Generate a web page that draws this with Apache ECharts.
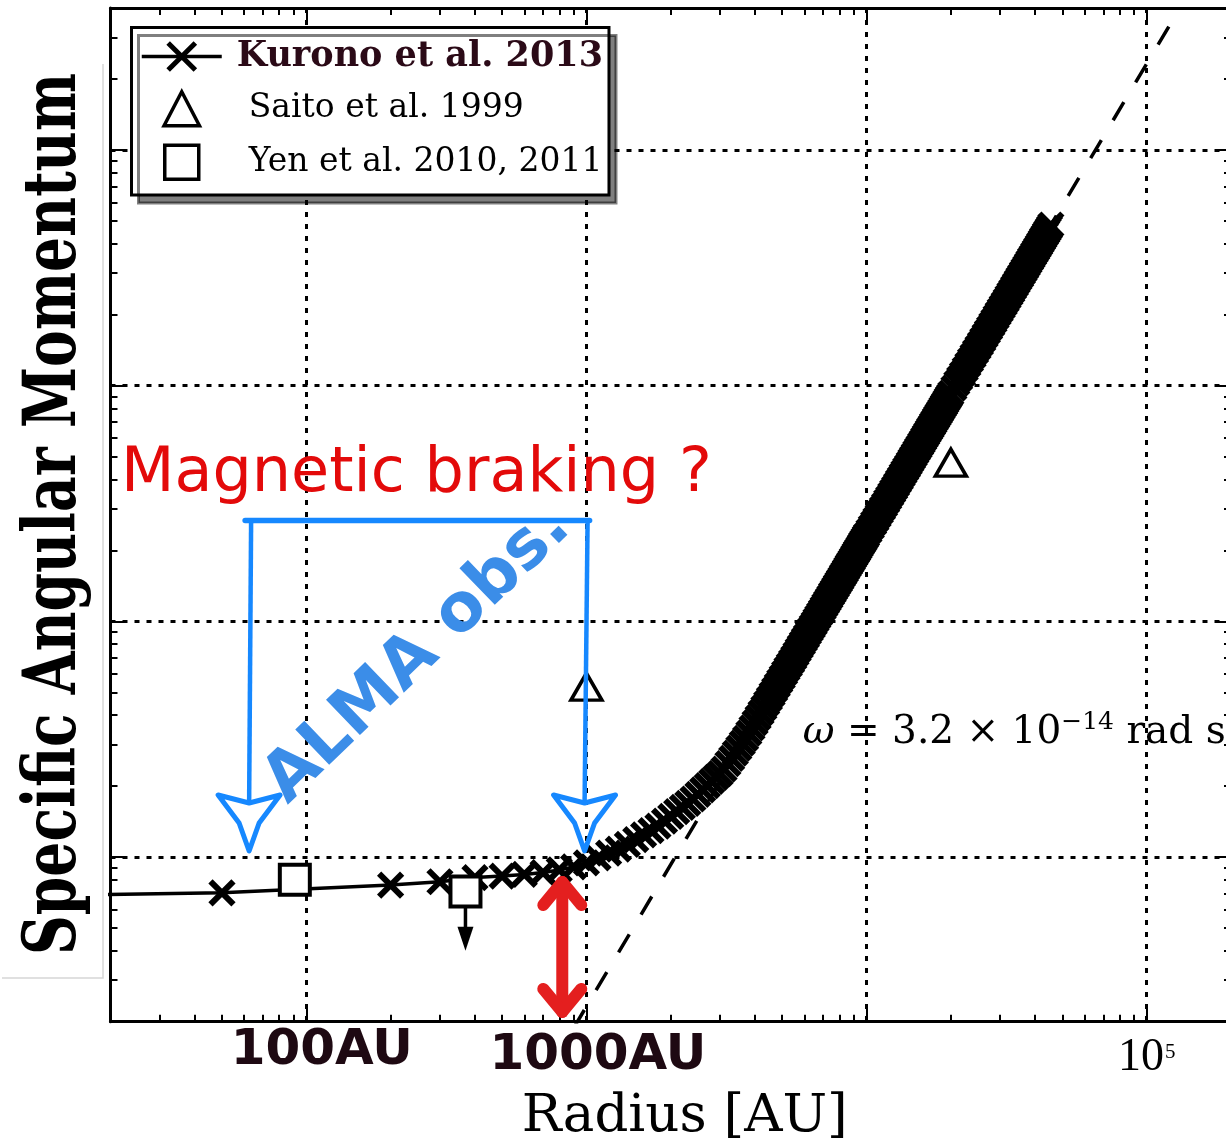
<!DOCTYPE html>
<html>
<head>
<meta charset="utf-8">
<title>Specific angular momentum versus radius</title>
<script src="https://cdn.jsdelivr.net/npm/echarts@6.0.0/dist/echarts.min.js"></script>
<style>
  html, body { margin: 0; padding: 0; background: #fff; }
  #chart { width: 1226px; height: 1144px; }
</style>
</head>
<body>
<div id="chart"></div>
<script>
// Specific angular momentum j [km s^-1 pc] against radius [AU].

// Kurono et al. 2013 model profile
const kuronoRadius = [
  10, 50, 200, 300, 400, 500, 600, 700, 800, 900, 1000,
  1100, 1200, 1300, 1400, 1500, 1600, 1700, 1800, 1900, 2000,
  2100, 2200, 2300, 2400, 2500, 2600, 2700, 2800, 2900, 3000,
  3100, 3200, 3300, 3400, 3500, 3600, 3700, 3800, 3900, 4000,
  4100, 4200, 4300, 4400, 4500, 4600, 4700, 4800, 4900, 5000,
  5100, 5200, 5300, 5400, 5500, 5600, 5700, 5800, 5900, 6000,
  6100, 6200, 6300, 6400, 6500, 6600, 6700, 6800, 6900, 7000,
  7100, 7200, 7300, 7400, 7500, 7600, 7700, 7800, 7900, 8000,
  8100, 8200, 8300, 8400, 8500, 8600, 8700, 8800, 8900, 9000,
  9100, 9200, 9300, 9400, 9500, 9600, 9700, 9800, 9900, 10000,
  10200, 10400, 10600, 10800, 11000, 11200, 11400, 11600, 11800, 12000,
  12200, 12400, 12600, 12800, 13000, 13200, 13400, 13600, 13800, 14000,
  14200, 14400, 14600, 14800, 15000, 15200, 15400, 15600, 15800, 16000,
  16200, 16400, 16600, 16800, 17000, 17200, 17400, 17600, 17800, 18000,
  18200, 18400, 18600, 18800, 19000, 19200, 19400, 19600, 19800, 20000,
  20500, 21000, 21500, 22000, 22500, 23000, 23500, 24000, 24500, 25000,
  25500, 26000, 26500, 27000, 27500, 28000, 28500, 29000, 29500, 30000,
  30500, 31000, 31500, 32000, 32500, 33000, 33500, 34000, 34500, 35000,
  35500, 36000, 36500, 37000, 37500, 38000, 38500, 39000, 39500, 40000,
  40500, 41000, 41500, 42000, 42500, 43000, 43500, 44000, 44500, 45000,
  45500
];
const kuronoJ = [
  6.84e-5, 7.05e-5, 7.60e-5, 7.85e-5, 8.18e-5, 8.30e-5, 8.43e-5, 8.59e-5, 8.81e-5, 9.08e-5, 9.44e-5,
  9.91e-5, 1.038e-4, 1.081e-4, 1.130e-4, 1.186e-4, 1.242e-4, 1.294e-4, 1.352e-4, 1.419e-4, 1.486e-4,
  1.556e-4, 1.622e-4, 1.687e-4, 1.762e-4, 1.845e-4, 1.928e-4, 2.009e-4, 2.094e-4, 2.178e-4, 2.259e-4,
  2.358e-4, 2.488e-4, 2.621e-4, 2.759e-4, 2.898e-4, 3.040e-4, 3.184e-4, 3.351e-4, 3.530e-4, 3.713e-4,
  3.901e-4, 4.094e-4, 4.291e-4, 4.493e-4, 4.700e-4, 4.911e-4, 5.127e-4, 5.347e-4, 5.572e-4, 5.802e-4,
  6.037e-4, 6.276e-4, 6.519e-4, 6.768e-4, 7.021e-4, 7.278e-4, 7.541e-4, 7.808e-4, 8.079e-4, 8.355e-4,
  8.636e-4, 8.922e-4, 9.212e-4, 9.506e-4, 9.806e-4, 1.011e-3, 1.042e-3, 1.073e-3, 1.105e-3, 1.137e-3,
  1.170e-3, 1.203e-3, 1.237e-3, 1.271e-3, 1.306e-3, 1.341e-3, 1.376e-3, 1.412e-3, 1.448e-3, 1.485e-3,
  1.523e-3, 1.561e-3, 1.599e-3, 1.638e-3, 1.677e-3, 1.717e-3, 1.757e-3, 1.797e-3, 1.838e-3, 1.880e-3,
  1.922e-3, 1.964e-3, 2.007e-3, 2.051e-3, 2.095e-3, 2.139e-3, 2.184e-3, 2.229e-3, 2.275e-3, 2.321e-3,
  2.415e-3, 2.510e-3, 2.608e-3, 2.707e-3, 2.808e-3, 2.911e-3, 3.016e-3, 3.123e-3, 3.232e-3, 3.342e-3,
  3.454e-3, 3.569e-3, 3.685e-3, 3.803e-3, 3.922e-3, 4.044e-3, 4.167e-3, 4.293e-3, 4.420e-3, 4.549e-3,
  4.680e-3, 4.813e-3, 4.947e-3, 5.084e-3, 5.222e-3, 5.362e-3, 5.504e-3, 5.648e-3, 5.794e-3, 5.942e-3,
  6.091e-3, 6.242e-3, 6.395e-3, 6.551e-3, 6.707e-3, 6.866e-3, 7.027e-3, 7.189e-3, 7.354e-3, 7.520e-3,
  7.688e-3, 7.858e-3, 8.029e-3, 8.203e-3, 8.378e-3, 8.556e-3, 8.735e-3, 8.916e-3, 9.099e-3, 9.284e-3,
  9.754e-3, 1.024e-2, 1.073e-2, 1.123e-2, 1.175e-2, 1.228e-2, 1.282e-2, 1.337e-2, 1.393e-2, 1.451e-2,
  1.509e-2, 1.569e-2, 1.630e-2, 1.692e-2, 1.755e-2, 1.820e-2, 1.885e-2, 1.952e-2, 2.020e-2, 2.089e-2,
  2.159e-2, 2.230e-2, 2.303e-2, 2.377e-2, 2.451e-2, 2.527e-2, 2.605e-2, 2.683e-2, 2.762e-2, 2.843e-2,
  2.925e-2, 3.008e-2, 3.092e-2, 3.177e-2, 3.264e-2, 3.351e-2, 3.440e-2, 3.530e-2, 3.621e-2, 3.713e-2,
  3.807e-2, 3.901e-2, 3.997e-2, 4.094e-2, 4.192e-2, 4.291e-2, 4.392e-2, 4.493e-2, 4.596e-2, 4.700e-2,
  4.805e-2
];

// Saito et al. 1999
const saitoRadius = [1000, 20000];
const saitoJ = [5.28e-4, 4.71e-3];

// Yen et al. 2010, 2011 (the outer point is an upper limit)
const yenRadius = [91, 370];
const yenJ = [8.01e-5, 7.13e-5];
const yenLimitRadius = 370;
const yenLimitTipJ = 4.5e-5;

// solid-body rotation j = omega r^2
const omega = 3.2e-14;                 // rad s^-1
const omegaLineRadius = [900, 125000]; // AU
const AU_CM = 1.496e13;
const KMS_PC = 3.0857e23;              // 1 km s^-1 pc in cm^2 s^-1

// axis extents and labelled ticks
const radiusRange = [20, 2e5];
const jRange = [2e-5, 0.4];
const radiusTicks = [100, 1000, 100000];
const radiusTickLabels = ['100AU', '1000AU', '10^5'];

const seriesNames = ['Kurono et al. 2013', 'Saito et al. 1999', 'Yen et al. 2010, 2011'];

function minorTicks(lo, hi) {
  const out = [];
  for (let e = Math.floor(Math.log10(lo)); e <= Math.ceil(Math.log10(hi)); e++) {
    for (let m = 2; m <= 9; m++) {
      const v = m * Math.pow(10, e);
      if (v > lo * 1.0001 && v < hi * 0.9999) out.push(v);
    }
  }
  return out;
}

const kuronoData = kuronoRadius.map((r, i) => [r, kuronoJ[i]]);
const saitoData = saitoRadius.map((r, i) => [r, saitoJ[i]]);
const yenData = yenRadius.map((r, i) => [r, yenJ[i]]);
const omegaData = omegaLineRadius.map(r => [r, omega * Math.pow(r * AU_CM, 2) / KMS_PC]);
const yenLimitIndex = yenRadius.indexOf(yenLimitRadius);

const crossSymbol = 'path://M0,0L10,10M10,0L0,10';
const triangleIcon = 'path://M5,0L10,9.6L0,9.6Z';
const squareIcon = 'path://M0,0L10,0L10,10L0,10Z';

const dotted = { color: '#000', width: 3, type: [5, 7] };
const tickStyle = { color: '#000', width: 2 };

function radiusLabel(value) {
  const lv = Math.log10(value);
  const idx = radiusTicks.findIndex(t => Math.abs(Math.log10(t) - lv) < 1e-6);
  if (idx < 0) return '';
  const txt = radiusTickLabels[idx];
  if (txt.indexOf('^') >= 0) {
    const parts = txt.split('^');
    return '{base|' + parts[0] + '}{exp|' + parts[1] + '}';
  }
  return '{au' + idx + '|' + txt + '}';
}

function logAxis(base, extra) {
  return Object.assign({
    type: 'log', logBase: 10, min: base[0], max: base[1],
    axisLine: { show: false },
    axisTick: { show: false },
    axisLabel: { show: false },
    splitLine: { show: false },
    silent: true
  }, extra);
}

const majorTick = { show: true, inside: true, length: 14, lineStyle: tickStyle };
const minorTick = (vals) => ({ show: true, inside: true, length: 7, customValues: vals, lineStyle: tickStyle });
const frameLine = { show: true, onZero: false, lineStyle: { color: '#000', width: 3 } };

const minorX = minorTicks(radiusRange[0], radiusRange[1]);
const minorY = minorTicks(jRange[0], jRange[1]);

const opaqueMarker = { color: '#fff', borderColor: '#000', opacity: 1 };

const option = {
  animation: false,
  backgroundColor: '#fff',
  grid: { left: 110.5, top: 8.1, width: 1120.5, height: 1013.6, outerBoundsMode: 'none', containLabel: false },
  xAxis: [
    logAxis(radiusRange, {
      position: 'bottom',
      axisLine: frameLine,
      axisTick: majorTick,
      splitLine: { show: true, showMinLine: false, showMaxLine: false, lineStyle: dotted },
      axisLabel: {
        show: true, customValues: radiusTicks, formatter: radiusLabel, margin: 4,
        rich: {
          au0: { fontFamily: 'DejaVu Sans', fontWeight: 'bold', fontSize: 50, lineHeight: 50, color: '#1e0912', padding: [0, 0, 0, 31] },
          au1: { fontFamily: 'DejaVu Sans', fontWeight: 'bold', fontSize: 50, lineHeight: 50, color: '#1e0912', padding: [10, 0, 0, 23] },
          base: { fontFamily: 'Liberation Serif', fontSize: 46, lineHeight: 50, color: '#000', padding: [14, 0, 0, 0] },
          exp: { fontFamily: 'Liberation Serif', fontSize: 21, lineHeight: 24, color: '#000', verticalAlign: 'top', padding: [16, 0, 0, 1] }
        }
      },
      name: 'Radius [AU]', nameLocation: 'middle', nameGap: 69,
      nameTextStyle: { fontFamily: 'DejaVu Serif', fontSize: 53, color: '#000', padding: [0, 0, 0, 28] }
    }),
    logAxis(radiusRange, { position: 'bottom', axisTick: minorTick(minorX) }),
    logAxis(radiusRange, { position: 'top', axisLine: frameLine, axisTick: majorTick }),
    logAxis(radiusRange, { position: 'top', axisTick: minorTick(minorX) })
  ],
  yAxis: [
    logAxis(jRange, {
      position: 'left',
      axisLine: frameLine,
      axisTick: majorTick,
      splitLine: { show: true, showMinLine: false, showMaxLine: false, lineStyle: dotted }
    }),
    logAxis(jRange, { position: 'left', axisTick: minorTick(minorY) }),
    logAxis(jRange, { position: 'right', axisLine: frameLine, axisTick: majorTick }),
    logAxis(jRange, { position: 'right', axisTick: minorTick(minorY) })
  ],
  legend: {
    orient: 'vertical', left: 131.5, top: 27.5,
    padding: [11.5, 6, 14, 8.5], itemGap: 16, itemWidth: 80, itemHeight: 34,
    backgroundColor: '#fff', borderColor: '#000', borderWidth: 3, borderRadius: 0,
    shadowColor: 'rgba(0,0,0,0.5)', shadowBlur: 0, shadowOffsetX: 7, shadowOffsetY: 8,
    selectedMode: false, symbolKeepAspect: true,
    textStyle: { fontFamily: 'DejaVu Serif', fontSize: 33, lineHeight: 34, color: '#000' },
    data: [
      { name: seriesNames[0], textStyle: { fontFamily: 'DejaVu Serif', fontWeight: 'bold', fontSize: 35, lineHeight: 34, color: '#2b0a17', padding: [0, 0, 0, 10] },
        itemStyle: { color: '#000', borderColor: '#000', borderWidth: 5, opacity: 1 }, lineStyle: { color: '#000', width: 3.5, opacity: 1 } },
      { name: seriesNames[1], icon: triangleIcon, textStyle: { padding: [0, 0, 0, 22] },
        itemStyle: Object.assign({ borderWidth: 3.5 }, opaqueMarker) },
      { name: seriesNames[2], icon: squareIcon, textStyle: { padding: [0, 0, 0, 22] },
        itemStyle: Object.assign({ borderWidth: 3.5 }, opaqueMarker) }
    ]
  },
  series: [
    {
      name: 'solid-body rotation', type: 'line', data: omegaData,
      showSymbol: false, symbol: 'none', clip: true, z: 2,
      lineStyle: { color: '#000', width: 3.5, type: [21, 23] },
      emphasis: { disabled: true }, silent: true
    },
    {
      name: seriesNames[0], type: 'line', data: kuronoData,
      symbol: crossSymbol, symbolSize: 23, showSymbol: true, clip: true, z: 3,
      itemStyle: { color: '#000', borderColor: '#000', borderWidth: 6, opacity: 1 },
      lineStyle: { color: '#000', width: 3.5 },
      emphasis: { disabled: true }, silent: true
    },
    {
      name: 'upper limit', type: 'line', z: 4, clip: true,
      data: [
        { value: yenData[yenLimitIndex], symbol: 'none' },
        { value: [yenLimitRadius, yenLimitTipJ], symbol: 'triangle', symbolRotate: 180, symbolSize: [16, 24] }
      ],
      showSymbol: true,
      itemStyle: { color: '#000', borderWidth: 0, opacity: 1 },
      lineStyle: { color: '#000', width: 3.5 },
      emphasis: { disabled: true }, silent: true
    },
    {
      name: seriesNames[1], type: 'scatter', data: saitoData,
      symbol: 'triangle', symbolSize: [31, 27], z: 5,
      itemStyle: Object.assign({ borderWidth: 3.5 }, opaqueMarker),
      emphasis: { disabled: true }, silent: true
    },
    {
      name: seriesNames[2], type: 'scatter', data: yenData,
      symbol: 'rect', symbolSize: 30, z: 5,
      itemStyle: Object.assign({ borderWidth: 4 }, opaqueMarker),
      emphasis: { disabled: true }, silent: true
    }
  ]
};

const chart = echarts.init(document.getElementById('chart'), null, { renderer: 'canvas', width: 1226, height: 1144 });
chart.setOption(option);

// annotations, anchored in data coordinates
const magneticNote = { text: 'Magnetic braking ?', r: 21.8, j: 4.2e-3 };
const almaNote = { text: 'ALMA obs.', r: 250, j: 7.2e-4, angle: 44 };
const almaBracket = { rLeft: 62.5, rRight: 985, jTop: 2.68e-3, jTip: 1.06e-4 };
const brakingGap = { r: 820, jTop: 7.83e-5, jBottom: 2.2e-5 };
const omegaNote = { r: 5923, j: 3.36e-4 };
const yTitle = 'Specific Angular Momentum';

function px(r, j) {
  return chart.convertToPixel({ xAxisIndex: 0, yAxisIndex: 0 }, [r, j]);
}

function textStyle(o) {
  return Object.assign({ textAlign: o.align, textVerticalAlign: o.verticalAlign }, o);
}

function arrowHead(tip) {
  const x = tip[0], y = tip[1];
  return [[x - 31, y - 56], [x, y - 48], [x + 31, y - 56], [x + 10, y - 28], [x, y], [x - 10, y - 28]];
}

function buildAnnotations() {
  const els = [];
  const blue = '#1688ff';
  const red = '#e41f1f';

  // title of the vertical axis, condensed along its length
  const ctx = document.createElement('canvas').getContext('2d');
  ctx.font = 'bold 72px "DejaVu Serif"';
  const titleW = ctx.measureText(yTitle).width;
  els.push({
    type: 'text', x: 56, y: 514, rotation: Math.PI / 2, scaleX: 882 / titleW, z: 60,
    style: textStyle({ text: yTitle, font: 'bold 72px "DejaVu Serif"', fill: '#000', align: 'center', verticalAlign: 'middle' })
  });
  // thin frame of the title panel
  els.push({
    type: 'polyline', z: 1, shape: { points: [[103, 64], [103, 978], [2, 978]] },
    style: { stroke: '#d6d6d6', lineWidth: 1.5, fill: null }
  });

  // "Magnetic braking ?"
  const m = px(magneticNote.r, magneticNote.j);
  els.push({
    type: 'text', x: m[0], y: m[1], z: 60,
    style: textStyle({ text: magneticNote.text, font: '62px "DejaVu Sans"', fill: '#e30a0a', align: 'left', verticalAlign: 'middle' })
  });

  // ALMA bracket with open arrow heads
  const tl = px(almaBracket.rLeft, almaBracket.jTop);
  const tr = px(almaBracket.rRight, almaBracket.jTop);
  const bl = px(almaBracket.rLeft, almaBracket.jTip);
  const br = px(almaBracket.rRight, almaBracket.jTip);
  els.push({
    type: 'polyline', z: 61, shape: { points: [[tl[0] - 4, tl[1]], [tr[0] + 5, tr[1]]] },
    style: { stroke: blue, lineWidth: 5.5, fill: null, lineCap: 'round' }
  });
  els.push({
    type: 'polyline', z: 61, shape: { points: [[tl[0] + 2, tl[1]], [bl[0], bl[1] - 48]] },
    style: { stroke: blue, lineWidth: 4.5, fill: null }
  });
  els.push({
    type: 'polyline', z: 61, shape: { points: [[tr[0] + 3, tr[1]], [br[0], br[1] - 48]] },
    style: { stroke: blue, lineWidth: 4.5, fill: null }
  });
  [bl, br].forEach(tip => {
    els.push({
      type: 'polygon', z: 61, shape: { points: arrowHead(tip) },
      style: { stroke: blue, lineWidth: 5, fill: null, lineJoin: 'round' }
    });
  });

  // "ALMA obs."
  const a = px(almaNote.r, almaNote.j);
  els.push({
    type: 'text', x: a[0], y: a[1], rotation: almaNote.angle * Math.PI / 180, z: 62,
    style: textStyle({ text: almaNote.text, font: 'bold 67px "DejaVu Sans"', fill: '#3b8de8', align: 'center', verticalAlign: 'middle' })
  });

  // red double-headed arrow
  const t = px(brakingGap.r, brakingGap.jTop);
  const b = px(brakingGap.r, brakingGap.jBottom);
  const redLine = { stroke: red, lineWidth: 12, fill: null, lineCap: 'round', lineJoin: 'round' };
  els.push({ type: 'polyline', z: 62, shape: { points: [[t[0], t[1]], [b[0], b[1]]] }, style: redLine });
  els.push({ type: 'polyline', z: 62, shape: { points: [[t[0] - 19, t[1] + 23], [t[0], t[1]], [t[0] + 19, t[1] + 23]] }, style: redLine });
  els.push({ type: 'polyline', z: 62, shape: { points: [[b[0] - 19, b[1] - 23], [b[0], b[1]], [b[0] + 19, b[1] - 23]] }, style: redLine });

  // omega label of the dashed line
  const w = px(omegaNote.r, omegaNote.j);
  els.push({
    type: 'text', x: w[0], y: w[1], z: 60,
    style: textStyle({
      text: '{w|ω} = 3.2 × 10{p|−14} rad s{p|−1}',
      font: '39px "DejaVu Serif"', fill: '#000', align: 'left', verticalAlign: 'middle', lineHeight: 46,
      rich: {
        w: { fontFamily: 'DejaVu Serif', fontStyle: 'italic', fontSize: 39, lineHeight: 46 },
        p: { fontFamily: 'DejaVu Serif', fontSize: 25, lineHeight: 22, verticalAlign: 'top' }
      }
    })
  });
  return els;
}

chart.setOption({ graphic: { elements: buildAnnotations() } });
</script>
</body>
</html>
